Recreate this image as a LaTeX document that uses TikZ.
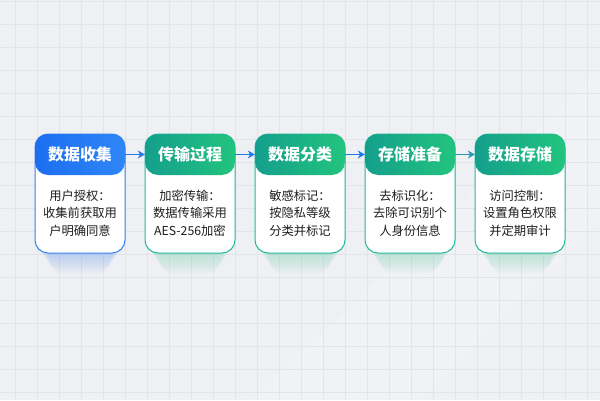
\documentclass[tikz,border=0pt]{standalone}
\usepackage{fontspec}
\setmainfont{Noto Sans CJK SC}
\usetikzlibrary{arrows.meta}
\definecolor{bgc}{HTML}{EEF0F3}
\definecolor{gridc}{HTML}{E1E4E8}
\definecolor{blueA}{HTML}{1C6EF0}
\definecolor{blueB}{HTML}{2F86F6}
\definecolor{tealA}{HTML}{149F8C}
\definecolor{greenB}{HTML}{22C47E}
\definecolor{blueline}{HTML}{3580F2}
\definecolor{greenline}{HTML}{22B89A}
\definecolor{arrowblue}{HTML}{1F78EE}
\definecolor{arrowteal}{HTML}{2797B8}
\definecolor{txt}{HTML}{1E1E1E}
\tikzset{
  cardbox/.style={draw=#1, line width=1pt, fill=white, rounded corners=13pt, minimum width=90pt, minimum height=119pt, inner sep=0pt},
  headbox/.style={rounded corners=13pt, minimum width=90pt, minimum height=41pt, inner sep=0pt, text=white, font=\fontsize{16}{18}\selectfont\bfseries},
  bluehead/.style={headbox, left color=blueA, right color=blueB},
  greenhead/.style={headbox, left color=tealA, right color=greenB},
  bodytext/.style={align=center, text=txt, font=\fontsize{12.3}{17.5}\selectfont, inner sep=0pt},
  arr/.style={draw=#1, line width=1.3pt, -{Stealth[length=7pt,width=8pt]}}
}
\begin{document}
\begin{tikzpicture}[x=1pt,y=1pt]
\useasboundingbox (0,0) rectangle (600,400);
\fill[bgc] (0,0) rectangle (600,400);
\fill[white, opacity=0.18] (250,0) -- (420,0) -- (600,180) -- (600,330) -- cycle;
\foreach \gx in {15,37,...,600} \draw[gridc, line width=0.7pt] (\gx,0) -- (\gx,400);
\foreach \gy in {8,31,...,400} \draw[gridc, line width=0.7pt] (0,\gy) -- (600,\gy);
% glows
\foreach \cx/\gc in {80/blueA,190/greenB,300/greenB,410/greenB,520/greenB}{
  \foreach \i in {1,...,9}{
    \fill[\gc, opacity=0.028, rounded corners=14pt] (\cx-44+\i*1.5,147-\i*2.3) rectangle (\cx+44-\i*1.5,190);
  }
}
% cards
\node[cardbox=blueline] (c1) at (80,206.5) {};
\node[cardbox=greenline] (c2) at (190,206.5) {};
\node[cardbox=greenline] (c3) at (300,206.5) {};
\node[cardbox=greenline] (c4) at (410,206.5) {};
\node[cardbox=greenline] (c5) at (520,206.5) {};
% headers
\node[bluehead] (h1) at (80,245.5) {数据收集};
\node[greenhead] (h2) at (190,245.5) {传输过程};
\node[greenhead] (h3) at (300,245.5) {数据分类};
\node[greenhead] (h4) at (410,245.5) {存储准备};
\node[greenhead] (h5) at (520,245.5) {数据存储};
% bodies
\node[bodytext] (b1) at (80,187) {用户授权：\\收集前获取用\\户明确同意};
\node[bodytext] (b2) at (190,187) {加密传输：\\数据传输采用\\AES-256加密};
\node[bodytext] (b3) at (300,187) {敏感标记：\\按隐私等级\\分类并标记};
\node[bodytext] (b4) at (410,187) {去标识化：\\去除可识别个\\人身份信息};
\node[bodytext] (b5) at (520,187) {访问控制：\\设置角色权限\\并定期审计};
% arrows
\draw[arr=arrowblue] (h1.east) -- (h2.west);
\draw[arr=arrowblue] (h2.east) -- (h3.west);
\draw[arr=arrowblue] (h3.east) -- (h4.west);
\draw[arr=arrowteal] (h4.east) -- (h5.west);
\end{tikzpicture}
\end{document}
